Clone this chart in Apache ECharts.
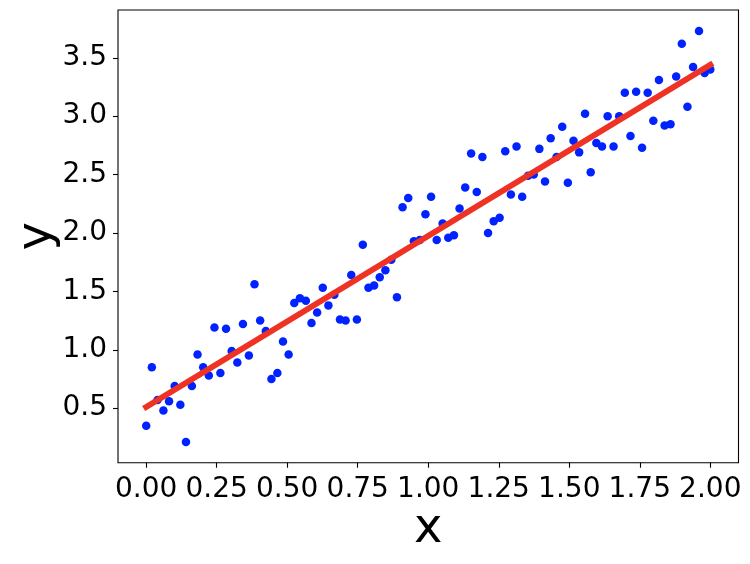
<!DOCTYPE html>
<html>
<head>
<meta charset="utf-8">
<script src="https://cdn.jsdelivr.net/npm/echarts@6/dist/echarts.min.js"></script>
<style>html,body{margin:0;padding:0;background:#fff}#c{width:750px;height:564px}</style>
</head>
<body>
<div id="c"></div>
<script>
const xValues = [0.000,0.020,0.040,0.061,0.081,0.101,0.121,0.141,0.162,0.182,
0.202,0.222,0.242,0.263,0.283,0.303,0.323,0.343,0.364,0.384,
0.404,0.424,0.444,0.465,0.485,0.505,0.525,0.545,0.566,0.586,
0.606,0.626,0.646,0.667,0.687,0.707,0.727,0.747,0.768,0.788,
0.808,0.828,0.848,0.869,0.889,0.909,0.929,0.949,0.970,0.990,
1.010,1.030,1.051,1.071,1.091,1.111,1.131,1.152,1.172,1.192,
1.212,1.232,1.253,1.273,1.293,1.313,1.333,1.354,1.374,1.394,
1.414,1.434,1.455,1.475,1.495,1.515,1.535,1.556,1.576,1.596,
1.616,1.636,1.657,1.677,1.697,1.717,1.737,1.758,1.778,1.798,
1.818,1.838,1.859,1.879,1.899,1.919,1.939,1.960,1.980,2.000];
const yValues = [0.35,0.85,0.57,0.48,0.56,0.69,0.53,0.21,0.69,0.96,
0.85,0.78,1.19,0.80,1.18,0.99,0.89,1.22,0.95,1.56,
1.25,1.16,0.75,0.80,1.07,0.96,1.40,1.44,1.42,1.23,
1.32,1.53,1.38,1.47,1.26,1.25,1.64,1.26,1.90,1.53,
1.55,1.62,1.68,1.77,1.45,2.22,2.30,1.93,1.94,2.16,
2.31,1.94,2.08,1.96,1.98,2.21,2.39,2.68,2.35,2.65,
2.00,2.10,2.13,2.70,2.33,2.74,2.31,2.49,2.50,2.72,
2.44,2.81,2.65,2.91,2.43,2.79,2.69,3.02,2.52,2.77,
2.74,3.00,2.74,3.00,3.20,2.83,3.21,2.73,3.20,2.96,
3.31,2.92,2.93,3.34,3.62,3.08,3.42,3.73,3.37,3.40];
const fitX = [0, 2];
const fitY = [0.51, 3.44];
const xTicks = [0, 0.25, 0.5, 0.75, 1.0, 1.25, 1.5, 1.75, 2.0];
const yTicks = [0.5, 1.0, 1.5, 2.0, 2.5, 3.0, 3.5];

const points = xValues.map((x, i) => [x, yValues[i]]);
const fitLine = fitX.map((x, i) => [x, fitY[i]]);
const font = 'DejaVu Sans';

const chart = echarts.init(document.getElementById('c'), null, {renderer: 'canvas'});
chart.setOption({
  animation: false,
  backgroundColor: '#fff',
  grid: {left: 118, right: 11.5, top: 10, bottom: 101.3, containLabel: false, outerBoundsMode: 'none',
    show: true, borderColor: '#000', borderWidth: 1.1, backgroundColor: 'transparent'},
  xAxis: {
    type: 'value', min: -0.1, max: 2.1,
    name: 'x', nameLocation: 'middle', nameGap: 43, nameMoveOverlap: false,
    nameTextStyle: {fontFamily: font, fontSize: 48, color: '#000'},
    axisLine: {show: false, onZero: false},
    splitLine: {show: false},
    axisTick: {show: true, inside: false, length: 5, lineStyle: {color: '#000', width: 1.1}, customValues: xTicks},
    axisLabel: {fontFamily: font, fontSize: 28, color: '#000', margin: 13, customValues: xTicks,
      formatter: v => v.toFixed(2)}
  },
  yAxis: {
    type: 'value', min: 0.033, max: 3.909,
    name: 'y', nameLocation: 'middle', nameGap: 56, nameMoveOverlap: false,
    nameTextStyle: {fontFamily: font, fontSize: 48, color: '#000'},
    axisLine: {show: false, onZero: false},
    splitLine: {show: false},
    axisTick: {show: true, inside: false, length: 5, lineStyle: {color: '#000', width: 1.1}, customValues: yTicks},
    axisLabel: {fontFamily: font, fontSize: 28, color: '#000', margin: 11, customValues: yTicks,
      formatter: v => v.toFixed(1)}
  },
  series: [
    {type: 'scatter', data: points, symbol: 'circle', symbolSize: 8.5,
     itemStyle: {color: '#0022ff', opacity: 1}, z: 2},
    {type: 'line', data: fitLine, showSymbol: false, symbol: 'none',
     lineStyle: {color: '#ee3224', width: 6, cap: 'square'}, z: 3}
  ]
});
</script>
</body>
</html>
